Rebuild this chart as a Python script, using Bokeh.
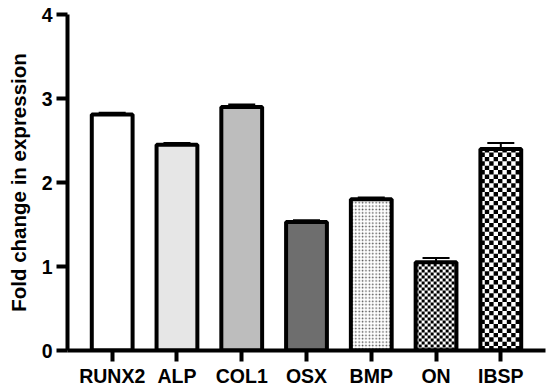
import math
from bokeh.plotting import figure
from bokeh.models import ColumnDataSource, FactorRange, Whisker, TeeHead, FixedTicker
from bokeh.embed import file_html
from bokeh.resources import INLINE

genes = ["RUNX2", "ALP", "COL1", "OSX", "BMP", "ON", "IBSP"]
fold_change = [2.81, 2.45, 2.90, 1.53, 1.80, 1.05, 2.40]
error = [0.02, 0.02, 0.03, 0.02, 0.02, 0.05, 0.07]
fills = ["#ffffff", "#e6e6e6", "#bdbdbd", "#6e6e6e", "#ffffff", "#ffffff", "#ffffff"]
patterns = [" ", " ", " ", " ", ".", "chk", "chk"]
pattern_scale = [4, 4, 4, 4, 3.4, 3.0, 4.4]
pattern_color = ["black", "black", "black", "black", "#555555", "black", "black"]

FONT = "Liberation Sans"
BAR_W = 0.63
PAD = 0.19
W, H = 550, 389
ML, MR, MT, MB = 67, 5, 14, 39

p = figure(x_range=FactorRange(factors=genes, range_padding=PAD, range_padding_units="absolute"),
           y_range=(0, 4), width=W, height=H,
           output_backend="svg", toolbar_location=None,
           min_border_left=ML, min_border_right=MR, min_border_top=MT, min_border_bottom=MB)

src = ColumnDataSource(dict(x=genes, top=fold_change, fill=fills))

# bar fills
for i, g in enumerate(genes):
    kw = {}
    if patterns[i] == ".":
        kw = dict(hatch_pattern=".", hatch_scale=pattern_scale[i],
                  hatch_color=pattern_color[i], hatch_weight=1.3)
    p.vbar(x=[g], top=[fold_change[i]], width=BAR_W, fill_color=fills[i],
           line_color=None, **kw)

# checkerboard textures (square cells in screen pixels)
px_x = (W - ML - MR) / (len(genes) + 2 * PAD)
px_y = (H - MT - MB) / 4.0
ql, qr, qb, qt = [], [], [], []
for i, g in enumerate(genes):
    if patterns[i] != "chk":
        continue
    cx = pattern_scale[i] / px_x
    cy = pattern_scale[i] / px_y
    x0 = i + 0.5 - BAR_W / 2
    x1 = i + 0.5 + BAR_W / 2
    top = fold_change[i]
    ncols = math.ceil(BAR_W / cx)
    nrows = math.ceil(top / cy)
    for r in range(nrows):
        for c in range(ncols):
            if (r + c) % 2 == 0:
                l = x0 + c * cx
                b = r * cy
                ql.append(l)
                qr.append(min(l + cx, x1))
                qb.append(b)
                qt.append(min(b + cy, top))
p.quad(left=ql, right=qr, bottom=qb, top=qt, fill_color="black", line_color=None)

# outlines
p.vbar(x="x", top="top", width=BAR_W, source=src, fill_color=None,
       line_color="black", line_width=4)

wsrc = ColumnDataSource(dict(x=genes, top=fold_change,
                             upper=[v + e for v, e in zip(fold_change, error)]))
w = Whisker(base="x", upper="upper", lower="top", source=wsrc,
            line_color="black", line_width=2,
            upper_head=TeeHead(size=27, line_width=2, line_color="black"),
            lower_head=None)
p.add_layout(w)

p.outline_line_color = None
p.grid.visible = False

for ax in (p.xaxis[0], p.yaxis[0]):
    ax.axis_line_width = 4
    ax.axis_line_color = "black"
    ax.major_tick_line_width = 4
    ax.major_tick_line_color = "black"
    ax.major_tick_in = 0
    ax.major_tick_out = 11
    ax.minor_tick_line_color = None
    ax.major_label_text_font = FONT
    ax.major_label_text_font_style = "bold"
    ax.major_label_text_font_size = "19.5px"
    ax.major_label_text_color = "black"

p.xaxis.major_label_standoff = 3
p.yaxis.major_label_standoff = 4
p.yaxis.ticker = FixedTicker(ticks=[0, 1, 2, 3, 4])
p.yaxis.axis_label = "Fold change in expression"
p.yaxis.axis_label_text_font = FONT
p.yaxis.axis_label_text_font_style = "bold"
p.yaxis.axis_label_text_font_size = "20.5px"
p.yaxis.axis_label_text_color = "black"
p.yaxis.axis_label_standoff = 9

open("out.html", "w").write(file_html(p, INLINE))
